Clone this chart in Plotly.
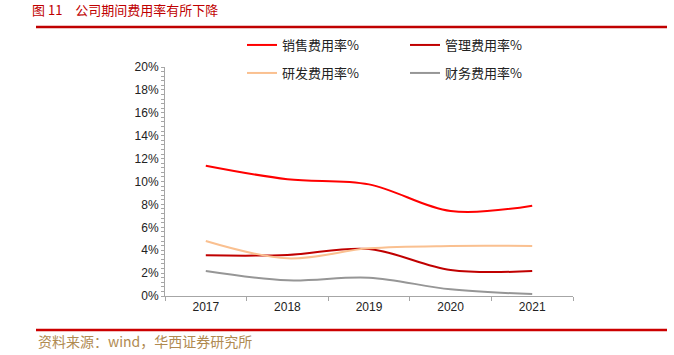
import plotly.graph_objects as go

years = ["2017", "2018", "2019", "2020", "2021"]
sales_rate = [11.38, 10.2, 9.75, 7.42, 7.89]
admin_rate = [3.55, 3.58, 4.1, 2.27, 2.18]
rd_rate = [4.8, 3.29, 4.16, 4.37, 4.37]
fin_rate = [2.18, 1.37, 1.6, 0.58, 0.17]
series_names = ["销售费用率%", "管理费用率%", "研发费用率%", "财务费用率%"]
series_colors = ["#ff0000", "#c00000", "#fac090", "#969696"]

W, H = 674, 355
L, R, T, B = 165, 101, 67, 59
pw, ph = W - L - R, H - T - B

def px_x(x):
    return (x - L) / pw

def px_y(y):
    return (H - B - y) / ph

cjk = "Noto Sans CJK SC"
fig = go.Figure()
data = [sales_rate, admin_rate, rd_rate, fin_rate]
legend_ids = ["legend", "legend2", "legend3", "legend4"]
legend_pos = [(242, 45), (405, 45), (242, 73), (405, 73)]
for name, vals, col, lg in zip(series_names, data, series_colors, legend_ids):
    fig.add_trace(go.Scatter(
        x=years, y=vals, name=name, mode="lines",
        line=dict(color=col, width=2, shape="spline", smoothing=1),
        legend=lg,
    ))

legend_common = dict(
    orientation="h", xanchor="left", yanchor="middle",
    font=dict(family=cjk, size=13, color="#222"),
    bgcolor="rgba(0,0,0,0)", borderwidth=0,
    itemwidth=30,
)
layout_legends = {}
for lg, (lx, ly) in zip(legend_ids, legend_pos):
    layout_legends[lg] = dict(x=px_x(lx), y=px_y(ly), **legend_common)

fig.update_layout(
    width=W, height=H,
    margin=dict(l=L, r=R, t=T, b=B, autoexpand=False),
    paper_bgcolor="white", plot_bgcolor="white",
    showlegend=True,
    xaxis=dict(
        type="category", range=[-0.5, 4.5], showgrid=False, showline=True,
        linecolor="#a6a6a6", linewidth=1,
        ticks="outside", tickson="boundaries", ticklen=4, tickcolor="#a6a6a6",
        tickfont=dict(family="Liberation Sans", size=12, color="#222"),
    ),
    yaxis=dict(
        range=[0, 20], dtick=2, ticksuffix="%", showgrid=False, zeroline=False,
        showline=True, linecolor="#a6a6a6", linewidth=1,
        ticks="outside", ticklen=3, tickcolor="#a6a6a6",
        minor=dict(dtick=0.4, ticks="outside", ticklen=3, tickcolor="#a6a6a6"),
        tickfont=dict(family="Liberation Sans", size=12, color="#222"),
    ),
    shapes=[
        dict(type="line", xref="paper", yref="paper", x0=px_x(36), x1=px_x(667),
             y0=px_y(27), y1=px_y(27), line=dict(color="#c00000", width=2.5)),
        dict(type="line", xref="paper", yref="paper", x0=px_x(36), x1=px_x(667),
             y0=px_y(330), y1=px_y(330), line=dict(color="#cc0000", width=2.5)),
    ],
    annotations=[
        dict(text="图 11　公司期间费用率有所下降", xref="paper", yref="paper",
             x=px_x(30), y=px_y(10), xanchor="left", yanchor="middle", showarrow=False,
             font=dict(family=cjk, size=13, color="#c00000")),
        dict(text="资料来源：wind，华西证券研究所", xref="paper", yref="paper",
             x=px_x(36), y=px_y(341), xanchor="left", yanchor="middle", showarrow=False,
             font=dict(family=cjk, size=14, color="#b08a50")),
    ],
    **layout_legends,
)

fig.write_html("out.html", config={"displayModeBar": False},
               post_script="document.body.style.margin='0';")
